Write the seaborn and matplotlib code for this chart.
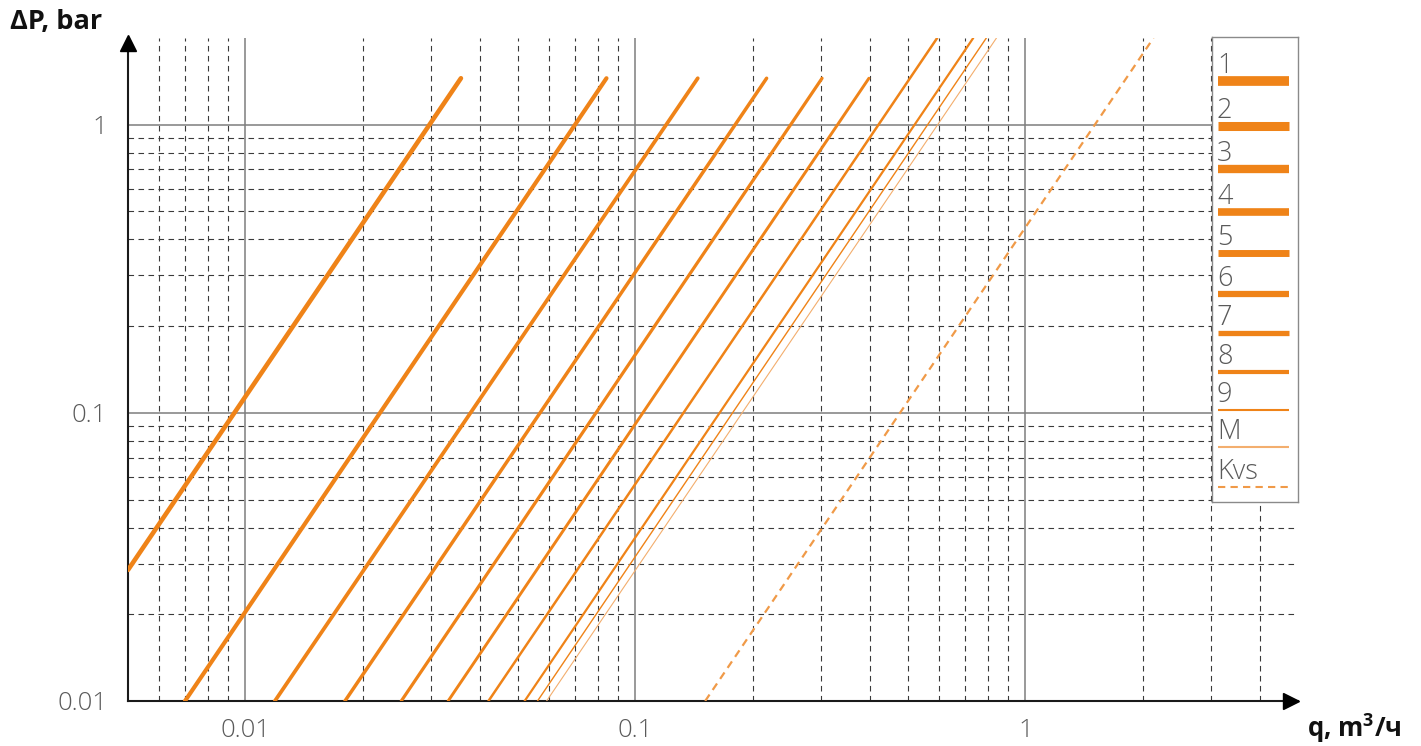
import numpy as np
import pandas as pd
import matplotlib
matplotlib.use("Agg")
import matplotlib.pyplot as plt
import matplotlib.ticker as mticker
import matplotlib.transforms as mtransforms
import seaborn as sns

# ---------------- data ----------------
series = ["1", "2", "3", "4", "5", "6", "7", "8", "9", "M", "Kvs"]
q_start = [0.005, 0.007, 0.0119, 0.0180, 0.0251, 0.0331, 0.0420, 0.0520, 0.0561, 0.0592, 0.151]
dp_start = [0.0285, 0.01, 0.01, 0.01, 0.01, 0.01, 0.01, 0.01, 0.01, 0.01, 0.01]
q_end = [0.0357, 0.0843, 0.1445, 0.217, 0.301, 0.397, 0.594, 0.735, 0.794, 0.843, 2.13]
dp_end = [1.45, 1.45, 1.45, 1.45, 1.45, 1.45, 2.0, 2.0, 2.0, 2.0, 2.0]

x_ticks = [0.01, 0.1, 1]
x_ticklabels = ["0.01", "0.1", "1"]
y_ticks = [0.01, 0.1, 1]
y_ticklabels = ["0.01", "0.1", "1"]
x_minor = [0.006, 0.007, 0.008, 0.009,
           0.02, 0.03, 0.04, 0.05, 0.06, 0.07, 0.08, 0.09,
           0.2, 0.3, 0.4, 0.5, 0.6, 0.7, 0.8, 0.9,
           2, 3, 4]
y_minor = [0.02, 0.03, 0.04, 0.05, 0.06, 0.07, 0.08, 0.09,
           0.2, 0.3, 0.4, 0.5, 0.6, 0.7, 0.8, 0.9]

# ---------------- styles ----------------
ORANGE = "#EF8318"
LIGHT = "#F3AE6E"
colors = [ORANGE] * 8 + [ORANGE, LIGHT, "#F09A48"]
plot_lw = [3.3, 3.0, 2.7, 2.5, 2.3, 2.1, 1.8, 1.6, 1.0, 0.8, 1.6]
legend_lw = [7.0, 6.5, 6.0, 5.5, 5.0, 4.5, 3.8, 3.0, 1.5, 1.5, 1.5]
styles = ["-"] * 10 + [(0, (3.5, 2.5))]

rows = []
for s, qs, ds, qe, de in zip(series, q_start, dp_start, q_end, dp_end):
    rows.append({"series": s, "q": qs, "dp": ds})
    rows.append({"series": s, "q": qe, "dp": de})
df = pd.DataFrame(rows)

sns.set_theme(style="white")
plt.rcParams["font.family"] = ["Open Sans", "DejaVu Sans"]
plt.rcParams["mathtext.fontset"] = "custom"
plt.rcParams["mathtext.bf"] = "Open Sans:bold"
plt.rcParams["mathtext.rm"] = "Open Sans"

fig = plt.figure(figsize=(14.21, 7.46), dpi=100)
ax = fig.add_axes([128 / 1421, 1 - 701 / 746, (1298 - 128) / 1421, (701 - 38) / 746])

ax.set_xscale("log")
ax.set_yscale("log")
ax.set_xlim(0.005, 5)
ax.set_ylim(0.01, 2)

for i, s in enumerate(series):
    sub = df[df["series"] == s]
    sns.lineplot(data=sub, x="q", y="dp", ax=ax, color=colors[i], lw=plot_lw[i],
                 estimator=None, sort=False, legend=False, zorder=3)
    ax.lines[-1].set_linestyle(styles[i])

# grid
ax.set_axisbelow(True)
ax.xaxis.set_major_locator(mticker.FixedLocator(x_ticks))
ax.yaxis.set_major_locator(mticker.FixedLocator(y_ticks))
ax.xaxis.set_minor_locator(mticker.FixedLocator(x_minor))
ax.yaxis.set_minor_locator(mticker.FixedLocator(y_minor))
ax.xaxis.set_minor_formatter(mticker.NullFormatter())
ax.yaxis.set_minor_formatter(mticker.NullFormatter())
ax.set_xticklabels(x_ticklabels)
ax.set_yticklabels(y_ticklabels)
ax.grid(which="major", color="#7d7d7d", lw=1.1, ls="-")
ax.grid(which="minor", color="#3a3a3a", lw=0.8, ls=(0, (5, 4)))

ax.tick_params(axis="x", which="major", length=9, width=1.1, color="#7d7d7d",
               labelsize=18.5, labelcolor="#5a5a5a", pad=3, direction="out")
ax.tick_params(axis="y", which="major", length=6, width=1.1, color="#7d7d7d",
               labelsize=18.5, labelcolor="#5a5a5a", pad=9, direction="out")
ax.tick_params(which="minor", length=0)
for lab in ax.get_xticklabels() + ax.get_yticklabels():
    lab.set_fontweight("light")

ax.set_xlabel("")
ax.set_ylabel("")
for sp in ["top", "right"]:
    ax.spines[sp].set_visible(False)
for sp in ["left", "bottom"]:
    ax.spines[sp].set_color("#1a1a1a")
    ax.spines[sp].set_linewidth(1.5)

# arrows
tx = mtransforms.offset_copy(ax.transAxes, fig=fig, x=-7, y=0, units="dots")
ty = mtransforms.offset_copy(ax.transAxes, fig=fig, x=0, y=-5, units="dots")
ax.plot(1, 0, ">", color="black", ms=11, transform=tx, clip_on=False, zorder=5)
ax.plot(0, 1, "^", color="black", ms=11, transform=ty, clip_on=False, zorder=5)

# axis titles
fig.text(10 / 1421, 1 - 22 / 746, "ΔP, bar", fontsize=19.5, fontweight="bold",
         ha="left", va="center", color="#111111")
fig.text(1307 / 1421, 1 - 737 / 746, r"q, m$^{\mathbf{3}}$/ч", fontsize=18.5, fontweight="bold",
         ha="left", va="baseline", color="#111111")

# legend box (custom, label above each sample line)
lax = fig.add_axes([1212 / 1421, 1 - 502 / 746, (1298 - 1212) / 1421, (502 - 37) / 746])
lax.set_xlim(0, 86)
lax.set_ylim(465, 0)
lax.set_facecolor("white")
lax.set_xticks([])
lax.set_yticks([])
for sp in lax.spines.values():
    sp.set_visible(True)
    sp.set_color("#8a8a8a")
    sp.set_linewidth(1.0)
bar_y = [44, 89, 132, 175, 216, 257, 296, 335, 373, 410, 450]
for i, s in enumerate(series):
    y = bar_y[i]
    lax.plot([6, 77], [y, y], color=colors[i], lw=legend_lw[i],
             ls=styles[i], solid_capstyle="butt")
    lax.text(5, y - 8, s, fontsize=19.5, fontweight="light", color="#5a5a5a",
             ha="left", va="baseline")

fig.savefig("out.png", dpi=100)
